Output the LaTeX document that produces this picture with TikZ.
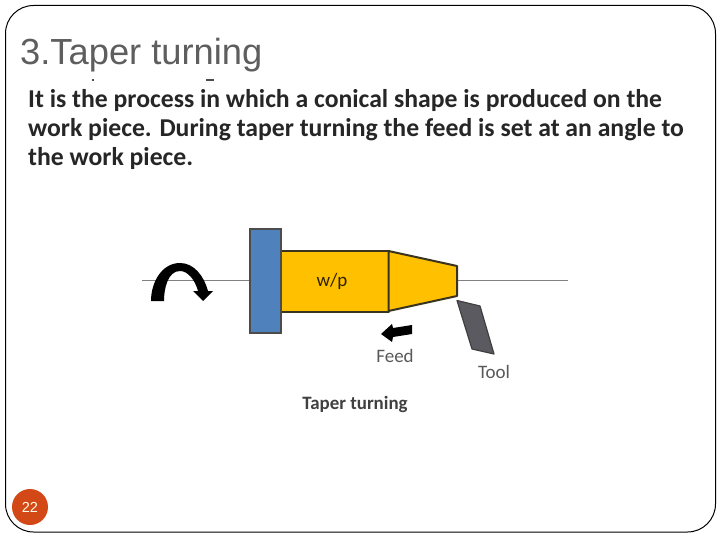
\documentclass[tikz,border=0pt]{standalone}
\usepackage{fontspec}
\setmainfont{Liberation Sans}
\newfontfamily\bodyfont{Carlito}
\definecolor{titlegrey}{HTML}{5E5E5E}
\definecolor{amberfill}{HTML}{FFC000}
\definecolor{chuckblue}{HTML}{4F81BD}
\definecolor{badge}{HTML}{D34817}
\definecolor{toolgrey}{HTML}{5A5A60}
\definecolor{outl}{HTML}{3A3320}
\tikzset{
 bodyline/.style={anchor=base west,inner sep=0pt,font=\bodyfont\bfseries\fontsize{25.7}{25.7}\selectfont,text=black!85},
 lab/.style={inner sep=0pt,font=\bodyfont\fontsize{19}{19}\selectfont,text=black!65},
 part/.style={draw=outl,line width=2pt,fill=amberfill,line join=round},
 axisline/.style={draw=black!50,line width=0.9pt},
}
\begin{document}
\begin{tikzpicture}[x=1pt,y=-1pt]
\useasboundingbox (0,0) rectangle (720,540);
\fill[white] (0,0) rectangle (720,540);
\draw[black,line width=1pt,rounded corners=28pt] (5.5,5.5) rectangle (715.5,532);
\node[anchor=base west,inner sep=0pt,text=titlegrey,font=\fontsize{36.3}{36.3}\selectfont] (title) at (20,65) {3.Taper turning};
\fill[black!70] (91.5,79) rectangle (93.5,81);
\fill[black!70] (206,79) rectangle (214,81);
\node[bodyline] (l1) at (28,108) {It is the process in which a conical shape is produced on the};
\node[bodyline] (l2) at (28,137) {work piece. During taper turning the feed is set at an angle to};
\node[bodyline] (l3) at (28,166) {the work piece.};
% axis
\coordinate (axL) at (142,280.5);
\coordinate (axR) at (568,280.5);
\draw[axisline] (axL) -- (249,280.5);
\draw[axisline] (457,280.5) -- (axR);
% workpiece
\node[part,minimum width=108pt,minimum height=61pt,inner sep=0pt] (wp) at (334.5,281) {};
\node[lab,text=black!70!amberfill!60!black] (wpl) at (332,281) {w/p};
\draw[part] (388.5,251) -- (457,266) -- (457,296) -- (388.5,311) -- cycle;
\node[draw=black!70,line width=2pt,fill=chuckblue,minimum width=31pt,minimum height=103pt,inner sep=0pt] (chuck) at (265,281) {};
% rotation arrow
\fill[black] (151,301) -- (164,301) .. controls (164,288) and (168,271) .. (180,271) .. controls (188,271) and (195,280) .. (198,291) -- (193,291)
 -- (203,301) -- (213,291) -- (208,291) .. controls (204,276) and (194,263) .. (180,263) .. controls (162,263) and (151,282) .. (151,301) -- cycle;
% feed arrow
\fill[black] (412,325) -- (412,334) -- (393,337) -- (392,342) -- (381,334) -- (392,324) -- (393,328) -- cycle;
\node[lab] (feed) at (395,356) {Feed};
% tool
\draw[fill=toolgrey,draw=black!75,line width=1.2pt,line join=round] (457,300.5) -- (480,306) -- (494,354) -- (472,349) -- cycle;
\node[lab] (tool) at (494,372) {Tool};
\node[inner sep=0pt,font=\bodyfont\bfseries\fontsize{18.9}{18.9}\selectfont,text=black!75] (cap) at (355,404) {Taper turning};
% badge
\node[circle,fill=badge,minimum size=36pt,inner sep=0pt,text=white!90!yellow,font=\fontsize{14.5}{14.5}\selectfont] (pg) at (30,507) {22};
\end{tikzpicture}
\end{document}
